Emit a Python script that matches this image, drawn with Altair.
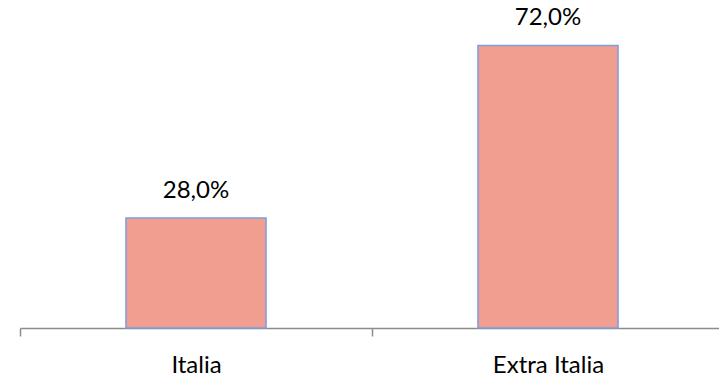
import altair as alt
import pandas as pd

categories = ["Italia", "Extra Italia"]
values = [28.0, 72.0]

df = pd.DataFrame({"cat": categories, "val": values})

base = alt.Chart(df).encode(
    x=alt.X("cat:N", sort=categories, title=None,
            scale=alt.Scale(range=[0, 704], paddingInner=0, paddingOuter=0),
            axis=alt.Axis(labelAngle=0, tickBand="extent", domainColor="#8c8c8c",
                          tickColor="#8c8c8c", domainWidth=1.5, tickWidth=1.5, tickSize=8,
                          labelFont="Lato", labelFontSize=24, labelColor="#000000",
                          labelPadding=17, grid=False)),
    y=alt.Y("val:Q", scale=alt.Scale(domain=[0, 80]), axis=None),
)

bars = base.mark_bar(color="#F19D8F", stroke="#7C9FDB", strokeWidth=1.5,
                     width=alt.RelativeBandSize(0.398))

text = base.transform_calculate(
    lbl="replace(format(datum.val, '.1f'), '.', ',') + '%'"
).mark_text(baseline="alphabetic", dy=-20, font="Lato", fontSize=24, color="#000000").encode(
    text="lbl:N"
)

chart = (bars + text).properties(
    width=699, height=314,
    background="white",
    autosize=alt.AutoSizeParams(type="none"),
    padding={"left": 20, "top": 14, "right": 0, "bottom": 49},
).configure_view(stroke=None, strokeWidth=0)

chart.save("out.html", embed_options={"renderer": "svg", "actions": False})
